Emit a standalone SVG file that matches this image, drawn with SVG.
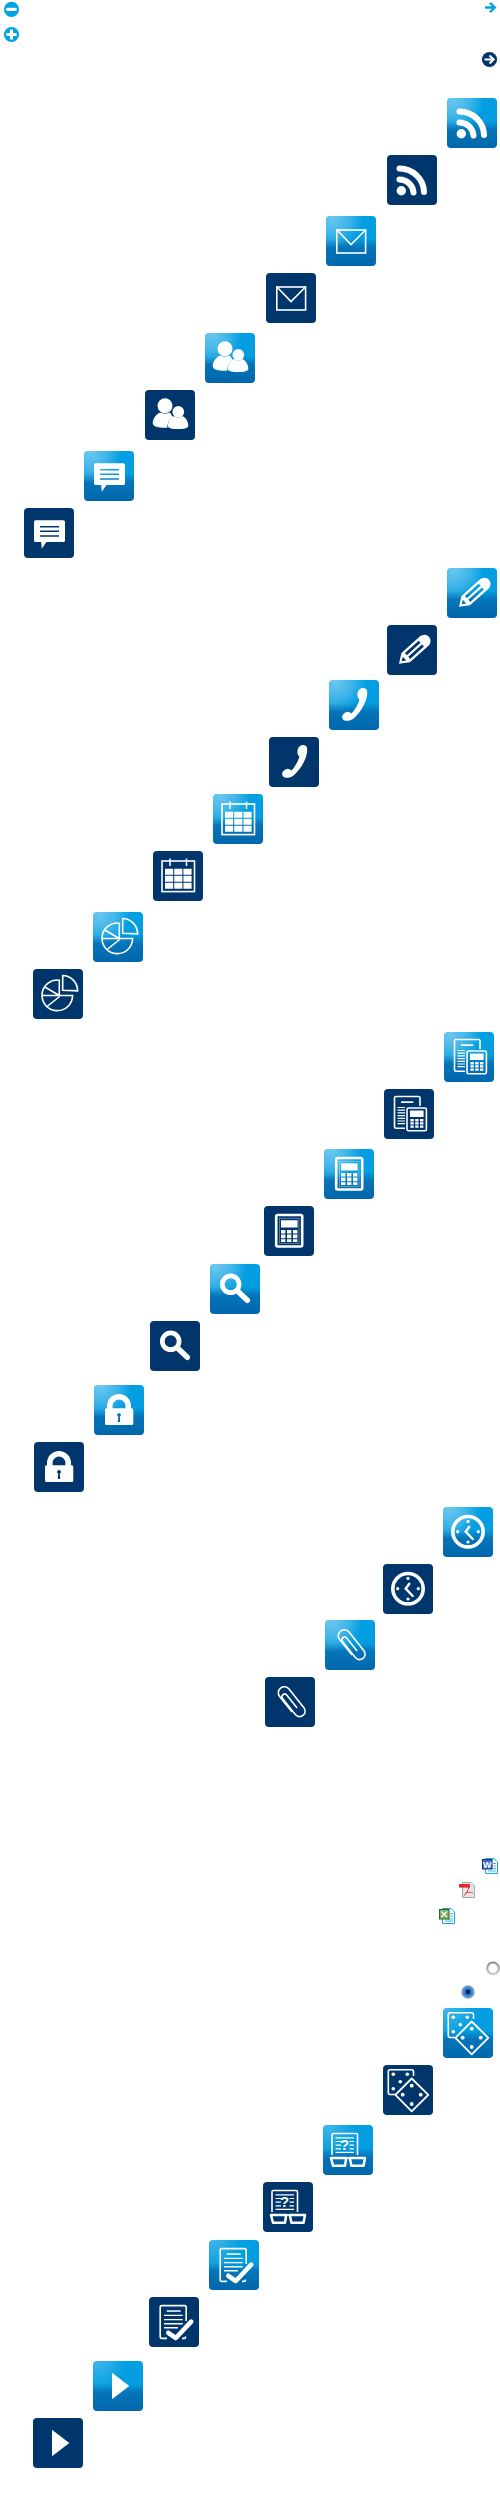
<svg xmlns="http://www.w3.org/2000/svg" width="500" height="2500" viewBox="0 0 500 2500">
<style>
.w{fill:#fff}
.o{fill:none;stroke:#fff;stroke-width:1.6}
.r{fill:none;stroke:#fff;stroke-linecap:round}
.hair{fill:none;stroke:#fff;stroke-width:1.2}
text{font-family:"Liberation Sans",Arial,sans-serif}
</style>
<defs>
<linearGradient id="gb" x1="0" y1="0" x2="0" y2="1">
<stop offset="0" stop-color="#029fe3"/><stop offset=".46" stop-color="#049ddf"/><stop offset=".63" stop-color="#0674b9"/><stop offset="1" stop-color="#0067ab"/>
</linearGradient>
<radialGradient id="gh" cx=".12" cy=".02" r=".62">
<stop offset="0" stop-color="#fff" stop-opacity=".42"/><stop offset=".55" stop-color="#fff" stop-opacity=".24"/><stop offset="1" stop-color="#fff" stop-opacity="0"/>
</radialGradient>
<radialGradient id="gh2" cx=".1" cy=".02" r=".55">
<stop offset="0" stop-color="#fff" stop-opacity=".24"/><stop offset="1" stop-color="#fff" stop-opacity="0"/>
</radialGradient>
<linearGradient id="gr" x1="0" y1="0" x2="0" y2="1"><stop offset="0" stop-color="#8d8d8d"/><stop offset="1" stop-color="#cfcfcf"/></linearGradient>
<g id="tl"><rect width="50" height="50" rx="4" fill="url(#gb)"/><rect width="50" height="50" rx="4" fill="url(#gh)"/></g>
<g id="tl2"><rect width="50" height="50" rx="4" fill="url(#gb)"/><rect width="50" height="50" rx="4" fill="url(#gh2)"/></g>
<rect id="td" width="50" height="50" rx="4" fill="#00366b"/>

<g id="i-rss"><circle class="w" cx="14.3" cy="35.7" r="4.7"/><path class="r" stroke-width="6" d="M12.5 24.5A14 14 0 0 1 26.5 37.5M12.5 13.5A24.5 24 0 0 1 37 37"/></g>
<g id="i-mail"><rect class="o" x="10.8" y="14" width="28.8" height="23"/><path class="o" d="M11 14L25 28.5L39.5 14"/></g>
<g id="i-people"><circle class="w" cx="20" cy="15.8" r="7.5"/><circle class="w" cx="33.3" cy="21.8" r="5.9"/>
<path class="w" d="M7.7 33C8 28 11.5 24 15 22.5C18 24 22 24 25 22.5C26 24.5 27 25.5 28 27C24.5 29 22.3 33 22.3 37.8C14 38 8 37 7.7 33Z"/>
<path class="w" d="M22.8 36C23 31 26 27.5 29 26C31.5 28 35 28 37.5 26C41 28 43.3 31.5 43.3 36C43 38.5 38 39 33 39C28 39 23 38.5 22.8 36Z"/></g>
<path id="i-chat" class="w" fill-rule="evenodd" d="M11.5 12.3H39.5Q41 12.3 41 13.8V32.5Q41 34 39.5 34H22.5L17.7 40.7L17.2 34H11.5Q10 34 10 32.5V13.8Q10 12.3 11.5 12.3ZM16 17.9V19.5H35V17.9ZM16 22.5V24.1H35V22.5ZM16 27.2V28.8H35V27.2Z"/>
<g id="i-pencil" transform="translate(12 38.7) rotate(-42)"><path class="w" fill-rule="evenodd" d="M0 0L9 -6.3H34A6.3 6.3 0 0 1 34 6.3H9ZM11.5 -3.9V-1.1H30V-3.9ZM11.5 1.1V3.9H30V1.1ZM3.5 0L7.5 2.6V-2.6Z"/></g>
<path id="i-phone" class="w" d="M31 9C33 7.5 36 8 37.5 9.5C38.5 11 38.5 14 37.5 18C35.5 26 30 34 24 39C21 41 16 41.5 14 39.5C12.5 37.5 13 35 15 33.5C17 32 19 31 21 32.5L22.5 33.5C26 30 29 24.5 30.5 19.5L29 18C28 16 28 11 31 9Z"/>
<g id="i-cal"><rect class="o" x="9" y="10" width="32.5" height="30.6"/><path fill="none" stroke="#fff" stroke-width="1.5" d="M17 7.5V15M33.5 7.5V15"/><path class="w" d="M12 17.8h8.2v6h-8.2zM21.2 17.8h8.2v6h-8.2zM30.4 17.8h8.2v6h-8.2zM12 24.8h8.2v6h-8.2zM21.2 24.8h8.2v6h-8.2zM30.4 24.8h8.2v6h-8.2zM12 31.8h8.2v6h-8.2zM21.2 31.8h8.2v6h-8.2zM30.4 31.8h8.2v6h-8.2z"/></g>
<g id="i-pie"><path class="o" d="M29.7 6.5A15.3 15.3 0 0 1 44.6 21.8L29.7 21.3Z"/><path class="o" d="M26.3 11.2A15.3 15.3 0 1 0 39.6 26.5H26.3ZM26.3 26.5L11 17.5M9 26.5H26.3M26.6 27.5L13.5 38"/></g>
<g id="i-cd"><path class="o" stroke-width="1.4" fill="none" d="M21 39.3H12Q10.5 39.3 10.5 37.8V9Q10.5 7.5 12 7.5H34.5Q36 7.5 36 9V17"/><path class="w" d="M17 12.3h12.3v1.7H17z"/><path class="hair" d="M13.5 18.5h7.5M13.5 21.2h7.5M13.5 23.9h7.5M13.5 26.6h7.5M13.5 29.3h7.5M13.5 32h7.5M13.5 34.7h7.5"/><rect class="o" x="23" y="19" width="19.4" height="22.7" rx="1.5"/><path class="w" d="M26 21.5h13.6v6.6H26zM26.4 30h3.4v2.4h-3.4zM31.2 30h3.4v2.4h-3.4zM36 30h3.4v2.4H36zM26.4 33.2h3.4v2.4h-3.4zM31.2 33.2h3.4v2.4h-3.4zM36 33.2h3.4v2.4H36zM26.4 36.4h3.4v2.4h-3.4zM31.2 36.4h3.4v2.4h-3.4zM36 36.4h3.4v2.4H36z"/></g>
<g id="i-calc"><rect x="12.2" y="9" width="26" height="31.5" rx="1.5" fill="none" stroke="#fff" stroke-width="2.6"/><rect x="15.4" y="12.2" width="19.6" height="25" fill="none" stroke="#fff" stroke-width=".5" opacity=".7"/><path class="w" d="M17 14.2h16.6v7.4H17zM17 24h4.4v3.6H17zM23 24h4.4v3.6H23zM29 24h4.4v3.6H29zM17 28.6h4.4v3.6H17zM23 28.6h4.4v3.6H23zM29 28.6h4.4v3.6H29zM17 33.2h4.4v2.8H17zM23 33.2h4.4v2.8H23zM29 33.2h4.4v2.8H29z"/></g>
<g id="i-search"><circle cx="20.7" cy="20.3" r="8.4" fill="none" stroke="#fff" stroke-width="4.7"/><path class="r" stroke-width="5.5" d="M28.3 27.7L37.3 36.3"/></g>
<g id="i-lock"><path fill="none" stroke="#fff" stroke-width="5.6" d="M15.8 24V21A9.2 9.2 0 0 1 34.2 21V24"/><path class="w" fill-rule="evenodd" d="M12.5 23.3H37.8Q39.3 23.3 39.3 24.8V38.5Q39.3 40 37.8 40H12.5Q11 40 11 38.5V24.8Q11 23.3 12.5 23.3ZM25 28A2 2 0 0 0 24.2 31.8L23.8 37H26.2L25.8 31.8A2 2 0 0 0 25 28Z"/></g>
<g id="i-clock"><circle cx="25" cy="24.7" r="15.2" fill="none" stroke="#fff" stroke-width="3.6"/><circle class="w" cx="25" cy="14.4" r="1.6"/><circle class="w" cx="25" cy="35" r="1.6"/><circle class="w" cx="14.7" cy="24.7" r="1.6"/><circle class="w" cx="35.3" cy="24.7" r="1.6"/><path fill="none" stroke="#fff" stroke-width="2.4" stroke-linecap="round" d="M26.3 19.7L22.7 24.7L29.7 32"/></g>
<g id="i-clip" transform="translate(19.3 15.7) rotate(51.5)"><path class="o" fill="none" d="M20 6H0A6 6 0 0 1 0 -6H24A5.5 5.5 0 0 1 24 5H3.5A2.6 2.6 0 0 1 3.5 -0.5H20"/></g>
<g id="i-dice"><path class="o" d="M30.5 11V6.5Q30.5 4.7 28.5 4.7H7Q5.3 4.7 5.3 6.5V27.5Q5.3 29.5 7 29.5H12"/><circle class="w" cx="10.3" cy="9.3" r="1.8"/><circle class="w" cx="24.3" cy="9.3" r="1.8"/><circle class="w" cx="17.3" cy="16.7" r="1.8"/><circle class="w" cx="10.3" cy="23.7" r="1.8"/><path fill="none" stroke="#fff" stroke-width="1.8" stroke-linejoin="round" d="M28.7 13.5L45.3 29.8L28.7 46.3L12.4 29.8Z"/><circle class="w" cx="28.7" cy="20.7" r="1.9"/><circle class="w" cx="37.7" cy="29.7" r="1.9"/><circle class="w" cx="28.7" cy="39" r="1.9"/><circle class="w" cx="19.7" cy="29.7" r="1.9"/></g>
<g id="i-glasses"><path class="o" d="M9 30V9.8Q9 8.5 10.3 8.5H33Q34.5 8.5 34.5 9.8V30"/><path class="hair" d="M12.5 12.8H31M12.5 16.5H18M26.5 16.5H31M12.5 20.2H18M26.5 20.2H31M12.5 23.9H18M26.5 23.9H31M12.5 27.4H31"/><text x="21.7" y="25" font-size="15" font-weight="700" fill="#fff" text-anchor="middle">?</text><path fill="none" stroke="#fff" stroke-width="2.5" stroke-linejoin="round" d="M8 33H23.2L22 40.7H10ZM26.8 33H42L40.6 40.7H28.4Z"/><path class="o" d="M23 33H27"/></g>
<g id="i-check"><path class="o" d="M37.2 24V10Q37.2 8.6 35.8 8.6H12.7Q11.2 8.6 11.2 10V40Q11.2 41.4 12.7 41.4H18M33 41.4H35.2Q36.6 41.4 36.6 39.5"/><path class="w" d="M17.7 13.3h14v1.5h-14z"/><path fill="none" stroke="#fff" stroke-width="1.4" d="M15 18.4H33.7M15 22.6H33.7M15 26.7H33.7M15 30.8H29"/><path class="r" stroke-width="4.6" stroke-linejoin="round" d="M19.3 35.8L26.8 41L42.2 24.6"/></g>
<path id="i-play" class="w" d="M19 11.7L36.3 25L19 38.3Z"/>
</defs>

<g id="icon-minus"><circle cx="11.5" cy="9.3" r="7.6" fill="#00a3e4"/><rect x="6" y="7.7" width="11" height="3.2" rx="1.6" class="w"/></g>
<g id="icon-plus"><circle cx="11.5" cy="34.5" r="7.6" fill="#00a3e4"/><path class="w" d="M10 29.5h3v3.5h3.6v3h-3.6v3.5h-3v-3.5H6.4v-3H10z"/></g>
<g id="icon-arrow"><path fill="none" stroke="#00a3e4" stroke-width="2.4" d="M485 7.5H494.5M490 2.8L494.8 7.5L490 12.2"/></g>
<g id="icon-arrow-dark"><circle cx="489.5" cy="59.5" r="7.6" fill="#00366b"/><path fill="none" stroke="#fff" stroke-width="2" d="M484.5 59.5H493.5M489.5 55.5L493.7 59.5L489.5 63.5"/></g>

<g id="rss-light" transform="translate(447 98)"><use href="#tl"/><use href="#i-rss"/></g>
<g id="rss-dark" transform="translate(387 155)"><use href="#td"/><use href="#i-rss"/></g>
<g id="mail-light" transform="translate(326 216)"><use href="#tl"/><use href="#i-mail"/></g>
<g id="mail-dark" transform="translate(266 273)"><use href="#td"/><use href="#i-mail"/></g>
<g id="people-light" transform="translate(205 333)"><use href="#tl"/><use href="#i-people"/></g>
<g id="people-dark" transform="translate(145 390)"><use href="#td"/><use href="#i-people"/></g>
<g id="chat-light" transform="translate(84 451)"><use href="#tl"/><use href="#i-chat"/></g>
<g id="chat-dark" transform="translate(24 508)"><use href="#td"/><use href="#i-chat"/></g>

<g id="pencil-light" transform="translate(447 568)"><use href="#tl"/><use href="#i-pencil"/></g>
<g id="pencil-dark" transform="translate(387 625)"><use href="#td"/><use href="#i-pencil"/></g>
<g id="phone-light" transform="translate(329 680)"><use href="#tl"/><use href="#i-phone"/></g>
<g id="phone-dark" transform="translate(269 737)"><use href="#td"/><use href="#i-phone"/></g>
<g id="calendar-light" transform="translate(213 794)"><use href="#tl"/><use href="#i-cal"/></g>
<g id="calendar-dark" transform="translate(153 851)"><use href="#td"/><use href="#i-cal"/></g>
<g id="pie-light" transform="translate(93 912)"><use href="#tl"/><use href="#i-pie"/></g>
<g id="pie-dark" transform="translate(33 969)"><use href="#td"/><use href="#i-pie"/></g>

<g id="calcdoc-light" transform="translate(444 1032)"><use href="#tl"/><use href="#i-cd"/></g>
<g id="calcdoc-dark" transform="translate(384 1089)"><use href="#td"/><use href="#i-cd"/></g>
<g id="calc-light" transform="translate(324 1149)"><use href="#tl"/><use href="#i-calc"/></g>
<g id="calc-dark" transform="translate(264 1206)"><use href="#td"/><use href="#i-calc"/></g>
<g id="search-light" transform="translate(210 1264)"><use href="#tl"/><use href="#i-search"/></g>
<g id="search-dark" transform="translate(150 1321)"><use href="#td"/><use href="#i-search"/></g>
<g id="lock-light" transform="translate(94 1385)"><use href="#tl"/><use href="#i-lock"/></g>
<g id="lock-dark" transform="translate(34 1442)"><use href="#td"/><use href="#i-lock"/></g>

<g id="clock-light" transform="translate(443 1507)"><use href="#tl"/><use href="#i-clock"/></g>
<g id="clock-dark" transform="translate(383 1564)"><use href="#td"/><use href="#i-clock"/></g>
<g id="clip-light" transform="translate(325 1620)"><use href="#tl"/><use href="#i-clip"/></g>
<g id="clip-dark" transform="translate(265 1677)"><use href="#td"/><use href="#i-clip"/></g>

<g id="doc-word"><path d="M485.5 1858.6H494L497.5 1862V1873.4H485.5Z" fill="#fff" stroke="#12a5e4" stroke-width="1"/><path d="M493 1863.5H496M493 1866H496M488 1868.5H496M488 1871H496" stroke="#12a5e4" stroke-width=".8"/><rect x="482.5" y="1859.5" width="9.5" height="9.5" fill="#3f6fc4" stroke="#16307a" stroke-width="1"/><text x="487.3" y="1867.5" font-size="9" font-weight="700" fill="#fff" text-anchor="middle">W</text></g>
<g id="doc-pdf"><path d="M462.5 1882.5H471L474.5 1886V1897.5H462.5Z" fill="#e6e6e6" stroke="#a5a5a5" stroke-width="1"/><rect x="459" y="1884" width="11" height="3.6" fill="#e3282e"/><path d="M469 1887C468 1891 466 1894 463.5 1896M465 1893.5C468 1892 471 1892 473 1893" fill="none" stroke="#e3282e" stroke-width=".9"/></g>
<g id="doc-excel"><path d="M442.5 1908.5H451L454.5 1912V1923.5H442.5Z" fill="#fff" stroke="#12a5e4" stroke-width="1"/><path d="M450 1913.5H453M450 1916H453M445 1919H453M445 1921H453" stroke="#12a5e4" stroke-width=".8"/><rect x="439.5" y="1909.5" width="9.5" height="9.5" fill="#7fb15e" stroke="#2f6a22" stroke-width="1"/><path d="M441.5 1911.5L447 1917M447 1911.5L441.5 1917" stroke="#fff" stroke-width="1.2"/></g>
<g id="radio-off"><circle cx="493" cy="1968.3" r="5.8" fill="#fff" stroke="url(#gr)" stroke-width="2.2"/></g>
<g id="radio-on"><circle cx="468" cy="1992" r="5.8" fill="#2f7fd0" stroke="#8a9fb6" stroke-width="1.8"/><circle cx="468" cy="1992" r="2.4" fill="#00245f"/></g>

<g id="dice-light" transform="translate(443 2008)"><use href="#tl2"/><use href="#i-dice"/></g>
<g id="dice-dark" transform="translate(383 2065)"><use href="#td"/><use href="#i-dice"/></g>
<g id="glasses-light" transform="translate(323 2125)"><use href="#tl2"/><use href="#i-glasses"/></g>
<g id="glasses-dark" transform="translate(263 2182)"><use href="#td"/><use href="#i-glasses"/></g>
<g id="check-light" transform="translate(209 2240)"><use href="#tl2"/><use href="#i-check"/></g>
<g id="check-dark" transform="translate(149 2297)"><use href="#td"/><use href="#i-check"/></g>
<g id="play-light" transform="translate(93 2361)"><use href="#tl2"/><use href="#i-play"/></g>
<g id="play-dark" transform="translate(33 2418)"><use href="#td"/><use href="#i-play"/></g>
</svg>
